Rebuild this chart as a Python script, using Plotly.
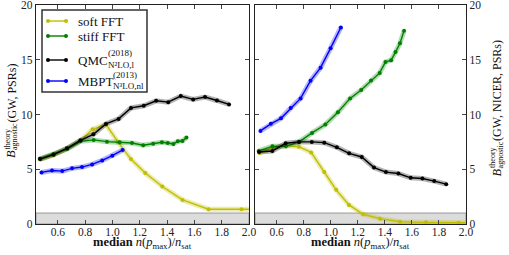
import plotly.graph_objects as go

# ---------------- data ----------------
soft_x = [0.471, 0.57, 0.668, 0.765, 0.855, 0.952, 1.04, 1.135, 1.24, 1.365, 1.513, 1.704, 1.945, 2.25]
soft_left = [5.9, 6.3, 6.9, 7.6, 8.65, 9.1, 7.5, 5.93, 4.65, 3.42, 2.2, 1.35, 1.35, 1.3]
soft_right = [6.48, 6.97, 7.16, 7.06, 6.54, 4.74, 3.12, 1.74, 0.89, 0.49, 0.21, 0.15, 0.12, 0.1]

stiff_x = [0.467, 0.569, 0.668, 0.766, 0.862, 0.96, 1.053, 1.143, 1.225, 1.298, 1.362, 1.405,
           1.446, 1.479, 1.512, 1.542]
stiff_left = [5.96, 6.39, 6.85, 7.55, 7.68, 7.52, 7.46, 7.40, 7.19, 7.34, 7.46, 7.4, 7.31, 7.55, 7.58, 7.89]
stiff_right = [6.67, 7.09, 7.09, 7.5, 8.32, 9.08, 10.2, 11.47, 12.23, 13.1, 13.8, 14.8, 14.95, 15.7,
               16.5, 17.64]

qmc_x = [0.47, 0.568, 0.667, 0.765, 0.86, 0.952, 1.045, 1.136, 1.229, 1.32, 1.408, 1.5, 1.591,
         1.678, 1.765, 1.854]
qmc_left = [5.93, 6.33, 6.91, 7.64, 8.19, 9.14, 9.6, 10.6, 10.8, 11.25, 11.13, 11.68, 11.38, 11.6,
            11.28, 10.92]
qmc_right = [6.58, 6.67, 7.37, 7.5, 7.5, 7.43, 7.0, 6.45, 6.12, 5.15, 4.74, 4.61, 4.22, 4.16, 3.92, 3.64]

mbpt_x = [0.48, 0.557, 0.632, 0.704, 0.777, 0.851, 0.925, 0.999, 1.075]
mbpt_left = [4.71, 4.89, 4.83, 5.08, 5.2, 5.44, 5.81, 6.24, 6.76]
mbpt_right = [8.5, 9.15, 9.65, 10.6, 11.47, 13.09, 14.28, 16.06, 17.95]

threshold = 1.0
x_ticks = [0.6, 0.8, 1.0, 1.2, 1.4, 1.6, 1.8, 2.0]
y_ticks = [0, 5, 10, 15, 20]

# legend texts: (main, superscript, subscript)
legend_names = [("soft FFT", "", ""), ("stiff FFT", "", ""),
                ("QMC", "(2018)", "N²LO,l"), ("MBPT", "(2013)", "N³LO,nl")]
colors = ["#bfbf00", "#008000", "#000000", "#0000ff"]
bands = ["rgba(191,191,0,0.3)", "rgba(0,128,0,0.3)", "rgba(0,0,0,0.3)", "rgba(0,0,255,0.3)"]
xs_all = [soft_x, stiff_x, qmc_x, mbpt_x]
left_all = [soft_left, stiff_left, qmc_left, mbpt_left]
right_all = [soft_right, stiff_right, qmc_right, mbpt_right]

FONT = "Liberation Serif"

fig = go.Figure()
for i in range(4):
    nm = legend_names[i][0]
    for ax, ys in (("", left_all[i]), ("2", right_all[i])):
        fig.add_trace(go.Scatter(x=xs_all[i], y=ys, xaxis="x" + ax, yaxis="y" + ax, mode="lines",
                                 line=dict(color=bands[i], width=5), showlegend=False,
                                 hoverinfo="skip"))
        fig.add_trace(go.Scatter(x=xs_all[i], y=ys, xaxis="x" + ax, yaxis="y" + ax,
                                 mode="lines+markers", line=dict(color=colors[i], width=1.4),
                                 marker=dict(color=colors[i], size=4), name=nm, showlegend=False))

axis_common = dict(showline=True, mirror="allticks", ticks="inside", ticklen=4, tickwidth=1,
                   linecolor="#222", linewidth=1.3, showgrid=False, zeroline=False,
                   automargin=False, ticklabeloverflow="allow",
                   tickfont=dict(family=FONT, size=11.5, color="#222"))

# panel pixel boxes (for positioning texts / legend)
PY0, PY1 = 5, 224
LX0, LX1 = 36, 249
RX0, RX1 = 255, 466


def ldx(px):
    return (px - LX0) / (LX1 - LX0)


def rdx(px):
    return (px - RX0) / (RX1 - RX0)


def dy(py):
    return (PY1 - py) / (PY1 - PY0)


annotations = []
shapes = [
    dict(type="rect", xref="x domain", yref="y", x0=0, x1=1, y0=0, y1=threshold,
         fillcolor="#dcdcdc", line=dict(color="#999", width=1), layer="below"),
    dict(type="rect", xref="x2 domain", yref="y2", x0=0, x1=1, y0=0, y1=threshold,
         fillcolor="#dcdcdc", line=dict(color="#999", width=1), layer="below"),
]

# x-axis titles
xtitle = "<b>median</b> <i>n</i>(<i>p</i><sub>max</sub>)/<i>n</i><sub>sat</sub>"
for xr, yr in (("x domain", "y domain"), ("x2 domain", "y2 domain")):
    annotations.append(dict(text=xtitle, xref=xr, yref=yr, x=0.5, y=dy(243.5), xanchor="center",
                            yanchor="middle", showarrow=False, borderpad=0, borderwidth=0,
                            font=dict(family=FONT, size=12.5, color="#111")))


# y-axis titles (rotated, stacked super/subscript)
def ytitle(xr, yr, fx, cx, rest):
    bottom = 114.5 + (7.5 + 27 + 5.0 * len(rest) * 1.05) / 2
    annotations.append(dict(text="<i>B</i>", xref=xr, yref=yr, x=fx(cx), y=dy(bottom + 2),
                            xanchor="center", yanchor="bottom", textangle=-90, showarrow=False,
                            font=dict(family=FONT, size=12.5, color="#111")))
    annotations.append(dict(text="theory", xref=xr, yref=yr, x=fx(cx - 4.5), y=dy(bottom - 6),
                            xanchor="center", yanchor="bottom", textangle=-90, showarrow=False,
                            font=dict(family=FONT, size=8, color="#111")))
    annotations.append(dict(text="agnostic", xref=xr, yref=yr, x=fx(cx + 3.5), y=dy(bottom - 6),
                            xanchor="center", yanchor="bottom", textangle=-90, showarrow=False,
                            font=dict(family=FONT, size=8, color="#111")))
    annotations.append(dict(text=rest, xref=xr, yref=yr, x=fx(cx), y=dy(bottom - 33),
                            xanchor="center", yanchor="bottom", textangle=-90, showarrow=False,
                            font=dict(family=FONT, size=12, color="#111")))


ytitle("x domain", "y domain", ldx, 11, "(GW, PSRs)")
ytitle("x2 domain", "y2 domain", rdx, 497, "(GW, NICER, PSRs)")

# manual legend (stacked super/subscripts as in the reference)
shapes.append(dict(type="rect", xref="x domain", yref="y domain", x0=ldx(42), x1=ldx(147),
                   y0=dy(92), y1=dy(10), fillcolor="white", line=dict(color="#333", width=1.5),
                   layer="above"))
row_y = [21, 36, 60, 81]
main_w = {"QMC": 29.6, "MBPT": 35.4}
for i, (main, sup, sub) in enumerate(legend_names):
    py = row_y[i]
    shapes.append(dict(type="line", xref="x domain", yref="y domain", x0=ldx(48), x1=ldx(66),
                       y0=dy(py), y1=dy(py), line=dict(color=colors[i], width=1.4), layer="above"))
    for mx in (48, 66):
        shapes.append(dict(type="circle", xref="x domain", yref="y domain", x0=ldx(mx - 2),
                           x1=ldx(mx + 2), y0=dy(py + 2), y1=dy(py - 2), fillcolor=colors[i],
                           line=dict(color=colors[i], width=0), layer="above"))
    annotations.append(dict(text=main, xref="x domain", yref="y domain", x=ldx(76), y=dy(py),
                            xanchor="left", yanchor="middle", showarrow=False,
                            font=dict(family=FONT, size=13, color="#111")))
    if sup:
        sx = 76 + main_w[main]
        annotations.append(dict(text=sup, xref="x domain", yref="y domain", x=ldx(sx),
                                y=dy(py - 6.5), xanchor="left", yanchor="middle", showarrow=False,
                                font=dict(family=FONT, size=9, color="#111")))
        annotations.append(dict(text=sub, xref="x domain", yref="y domain", x=ldx(sx),
                                y=dy(py + 5), xanchor="left", yanchor="middle", showarrow=False,
                                font=dict(family=FONT, size=9, color="#111")))

fig.update_layout(
    width=509, height=255,
    margin=dict(l=36, r=43, t=5, b=31),
    paper_bgcolor="white", plot_bgcolor="white",
    font=dict(family=FONT, size=11, color="#222"),
    showlegend=False,
    xaxis=dict(domain=[0, 213 / 430], range=[0.44, 2.0], tickvals=x_ticks,
               ticktext=[f"{v:.1f}" for v in x_ticks], anchor="y", ticklabelstandoff=-3,
               **axis_common),
    xaxis2=dict(domain=[219 / 430, 1], range=[0.44, 2.0], tickvals=x_ticks,
                ticktext=[f"{v:.1f}" for v in x_ticks], anchor="y2", ticklabelstandoff=-3,
                **axis_common),
    yaxis=dict(range=[0, 20], tickvals=y_ticks, anchor="x", **axis_common),
    yaxis2=dict(range=[0, 20], tickvals=y_ticks, anchor="x2", side="right", **axis_common),
    shapes=shapes,
    annotations=annotations,
)

fig.write_html("out.html", config={"displayModeBar": False},
               post_script="document.body.style.margin='0';")
